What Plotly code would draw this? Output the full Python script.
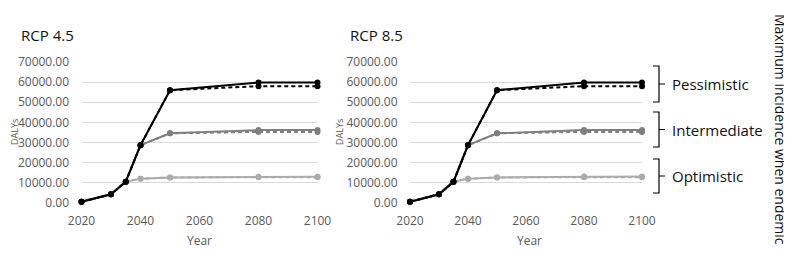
import plotly.graph_objects as go

# the page body adds an 8px offset; figure coordinates below are given in
# screen pixels of the 792x257 window and converted with OFF
OFF = 8
W, H = 792 - OFF, 257 - OFF

years = [2020, 2030, 2035, 2040, 2050, 2080, 2100]
x_ticks = [2020, 2040, 2060, 2080, 2100]
y_ticks = [0, 10000, 20000, 30000, 40000, 50000, 60000, 70000]

# RCP 4.5
rcp45_pess_solid = [600, 4300, 10600, 28700, 56000, 59800, 59800]
rcp45_pess_dash = [600, 4300, 10600, 28700, 56000, 58000, 57900]
rcp45_int_solid = [600, 4300, 10600, 28700, 34600, 36200, 36200]
rcp45_int_dash = [600, 4300, 10600, 28700, 34600, 35300, 35200]
rcp45_opt_solid = [600, 4300, 10600, 12100, 12700, 13000, 13000]
rcp45_opt_dash = [600, 4300, 10600, 12100, 12700, 12800, 12800]

# RCP 8.5
rcp85_pess_solid = [600, 4300, 10600, 28700, 56000, 59800, 59800]
rcp85_pess_dash = [600, 4300, 10600, 28700, 56000, 58000, 57900]
rcp85_int_solid = [600, 4300, 10600, 28700, 34600, 36300, 36300]
rcp85_int_dash = [600, 4300, 10600, 28700, 34600, 35300, 35300]
rcp85_opt_solid = [600, 4300, 10600, 12100, 12700, 13100, 13100]
rcp85_opt_dash = [600, 4300, 10600, 12100, 12700, 12800, 12800]

panel_titles = ["RCP 4.5", "RCP 8.5"]
group_labels = ["Pessimistic", "Intermediate", "Optimistic"]
side_title = "Maximum incidence when endemic"

BLACK = "#000000"
MID = "#7f7f7f"
LIGHT = "#ababab"
FONT = "Open Sans"


def px(x):
    return (x - OFF) / W


def py(y):
    return 1 - (y - OFF) / H


fig = go.Figure()

panels = [
    ("x", "y", [rcp45_opt_dash, rcp45_opt_solid, rcp45_int_dash, rcp45_int_solid, rcp45_pess_dash, rcp45_pess_solid]),
    ("x2", "y2", [rcp85_opt_dash, rcp85_opt_solid, rcp85_int_dash, rcp85_int_solid, rcp85_pess_dash, rcp85_pess_solid]),
]
styles = [(LIGHT, "4px,3px"), (LIGHT, "solid"), (MID, "4px,3px"), (MID, "solid"), (BLACK, "4px,3px"), (BLACK, "solid")]

for xa, ya, series in panels:
    for vals, (col, dash) in zip(series, styles):
        fig.add_trace(go.Scatter(
            x=years, y=vals, xaxis=xa, yaxis=ya, mode="lines+markers",
            line=dict(color=col, width=2, dash=dash),
            marker=dict(color=col, size=6),
            showlegend=False, cliponaxis=False,
        ))

y0, y70 = 203, 62
ydom = [py(y0), py(y70)]
axis_common = dict(
    showline=False, zeroline=False, automargin=False,
    tickfont=dict(family=FONT, size=12, color="#595959"),
)
fig.update_layout(
    width=W, height=H, autosize=False,
    margin=dict(l=0, r=0, t=0, b=0, pad=0, autoexpand=False),
    paper_bgcolor="white", plot_bgcolor="white",
    xaxis=dict(domain=[px(81.5), px(317.5)], range=[2020, 2100], tickvals=x_ticks,
               showgrid=False, ticks="outside", ticklen=7, tickcolor="rgba(0,0,0,0)",
               anchor="y", **axis_common),
    yaxis=dict(domain=ydom, range=[0, 70000], tickvals=y_ticks, tickformat=".2f",
               showgrid=True, gridcolor="#d9d9d9", gridwidth=1,
               ticks="outside", ticklen=9, tickcolor="rgba(0,0,0,0)",
               anchor="x", **axis_common),
    xaxis2=dict(domain=[px(410), px(642)], range=[2020, 2100], tickvals=x_ticks,
                showgrid=False, ticks="outside", ticklen=7, tickcolor="rgba(0,0,0,0)",
                anchor="y2", **axis_common),
    yaxis2=dict(domain=ydom, range=[0, 70000], tickvals=y_ticks, tickformat=".2f",
                showgrid=True, gridcolor="#d9d9d9", gridwidth=1,
                ticks="outside", ticklen=9, tickcolor="rgba(0,0,0,0)",
                anchor="x2", **axis_common),
)

ann = []
# panel titles
ann.append(dict(x=px(19), y=py(35), text=panel_titles[0], xanchor="left", yanchor="middle"))
ann.append(dict(x=px(348), y=py(35), text=panel_titles[1], xanchor="left", yanchor="middle"))
for a in ann:
    a.update(xref="paper", yref="paper", showarrow=False,
             font=dict(family=FONT, size=15, color="#111111"))

for cx, tx in [(199, "Year"), (529, "Year")]:
    ann.append(dict(x=px(cx), y=py(240), text=tx, xref="paper", yref="paper", showarrow=False,
                    xanchor="center", yanchor="middle",
                    font=dict(family=FONT, size=12, color="#595959")))
for cx in [14, 339]:
    ann.append(dict(x=px(cx), y=py(132), text="DALYs", xref="paper", yref="paper", showarrow=False,
                    xanchor="center", yanchor="middle", textangle=-90,
                    font=dict(family=FONT, size=9, color="#595959")))

# group labels with brackets
brackets = [(66, 102), (112, 147), (159, 193)]
shapes = []
for (top, bot), lab in zip(brackets, group_labels):
    mid = (top + bot) / 2
    xl, xv = 653, 659
    path = (f"M {px(xl)},{py(top)} L {px(xv)},{py(top)} L {px(xv)},{py(bot)} L {px(xl)},{py(bot)} "
            f"M {px(xv)},{py(mid)} L {px(665)},{py(mid)}")
    shapes.append(dict(type="path", path=path, xref="paper", yref="paper",
                       line=dict(color="#000000", width=1.2)))
    ann.append(dict(x=px(670), y=py(mid), text=lab, xref="paper", yref="paper", showarrow=False,
                    xanchor="left", yanchor="middle",
                    font=dict(family=FONT, size=15, color="#111111")))

ann.append(dict(x=px(781), y=py(129), text=side_title, xref="paper", yref="paper", showarrow=False,
                xanchor="center", yanchor="middle", textangle=90,
                font=dict(family=FONT, size=14, color="#111111")))

fig.update_layout(annotations=ann, shapes=shapes)
fig.write_html("out.html")
